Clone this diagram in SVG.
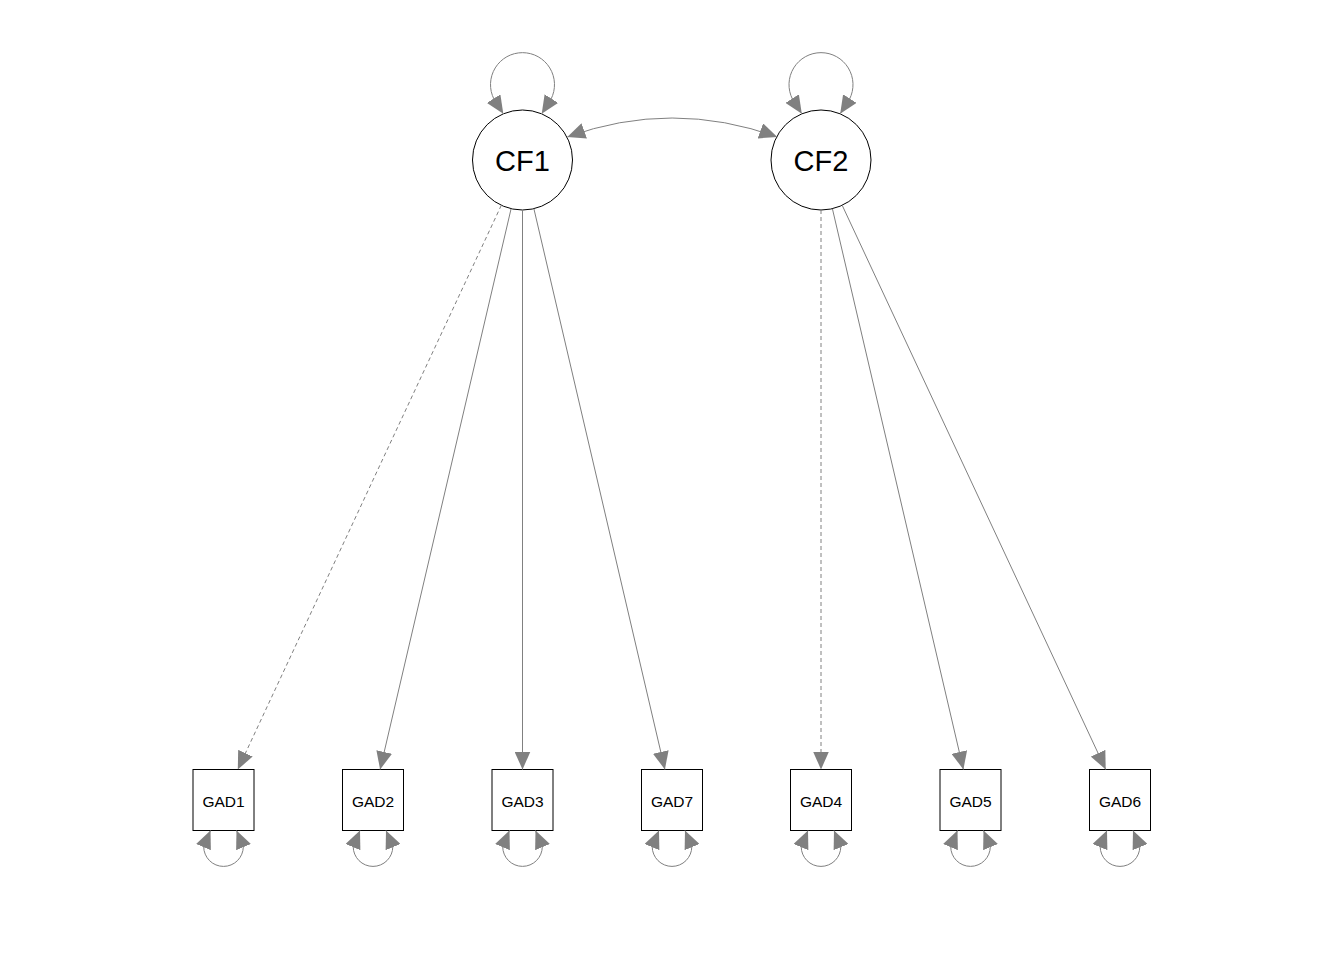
<svg xmlns="http://www.w3.org/2000/svg" width="1344" height="960" viewBox="0 0 1344 960">
<style>
.bg{fill:#ffffff}
.lat{fill:#ffffff;stroke:#000000;stroke-width:1}
.man{fill:#ffffff;stroke:#000000;stroke-width:1}
.latt{font-family:"Liberation Sans",Arial,sans-serif;font-size:29px;fill:#000000;text-anchor:middle}
.mant{font-family:"Liberation Sans",Arial,sans-serif;font-size:15.5px;fill:#000000;text-anchor:middle}
.e{fill:none;stroke:#808080;stroke-width:1;marker-end:url(#ah)}
.d{stroke-dasharray:4 3}
.b{fill:none;stroke:#808080;stroke-width:1;marker-start:url(#ah);marker-end:url(#ah)}
</style>
<defs>
<marker id="ah" viewBox="0 0 18 16" refX="18" refY="8" markerWidth="18" markerHeight="16" markerUnits="userSpaceOnUse" orient="auto-start-reverse">
<path d="M0,0 L18,8 L0,16 Z" fill="#808080"/>
</marker>
</defs>
<rect class="bg" x="0" y="0" width="1344" height="960"/>

<g id="CF1">
<circle class="lat" cx="522.5" cy="160" r="50"/>
<text class="latt" x="522.5" y="171">CF1</text>
</g>
<g id="CF2">
<circle class="lat" cx="821" cy="160" r="50"/>
<text class="latt" x="821" y="171">CF2</text>
</g>

<g id="GAD1"><rect class="man" x="193" y="769.5" width="61" height="61"/><text class="mant" x="223.5" y="806.5">GAD1</text></g>
<g id="GAD2"><rect class="man" x="342.5" y="769.5" width="61" height="61"/><text class="mant" x="373" y="806.5">GAD2</text></g>
<g id="GAD3"><rect class="man" x="492" y="769.5" width="61" height="61"/><text class="mant" x="522.5" y="806.5">GAD3</text></g>
<g id="GAD7"><rect class="man" x="641.5" y="769.5" width="61" height="61"/><text class="mant" x="672" y="806.5">GAD7</text></g>
<g id="GAD4"><rect class="man" x="790.5" y="769.5" width="61" height="61"/><text class="mant" x="821" y="806.5">GAD4</text></g>
<g id="GAD5"><rect class="man" x="940" y="769.5" width="61" height="61"/><text class="mant" x="970.5" y="806.5">GAD5</text></g>
<g id="GAD6"><rect class="man" x="1089.5" y="769.5" width="61" height="61"/><text class="mant" x="1120" y="806.5">GAD6</text></g>

<g id="connectors">
<path class="e d" d="M501.3,205.3 L237.8,769.5"/>
<path class="e" d="M511.1,208.7 L380.1,769.5"/>
<path class="e" d="M522.5,210 L522.5,769.5"/>
<path class="e" d="M533.9,208.7 L664.9,769.5"/>
<path class="e d" d="M821,210 L821,769.5"/>
<path class="e" d="M832.4,208.7 L963.4,769.5"/>
<path class="e" d="M842.2,205.3 L1105.7,769.5"/>

<path class="b" d="M567.3,137 Q672,99 777.3,137"/>

<path class="b" d="M503.3,113.8 L494,99.2 A32,32 0 1 1 551,99.2 L541.7,113.8"/>
<path class="b" d="M801.8,113.8 L792.5,99.2 A32,32 0 1 1 849.5,99.2 L840.2,113.8"/>

<path class="b" d="M210.5,830.5 L203.7,846.6 A19.8,19.8 0 0 0 243.3,846.6 L236.5,830.5"/>
<path class="b" d="M360,830.5 L353.2,846.6 A19.8,19.8 0 0 0 392.8,846.6 L386,830.5"/>
<path class="b" d="M509.5,830.5 L502.7,846.6 A19.8,19.8 0 0 0 542.3,846.6 L535.5,830.5"/>
<path class="b" d="M659,830.5 L652.2,846.6 A19.8,19.8 0 0 0 691.8,846.6 L685,830.5"/>
<path class="b" d="M808,830.5 L801.2,846.6 A19.8,19.8 0 0 0 840.8,846.6 L834,830.5"/>
<path class="b" d="M957.5,830.5 L950.7,846.6 A19.8,19.8 0 0 0 990.3,846.6 L983.5,830.5"/>
<path class="b" d="M1107,830.5 L1100.2,846.6 A19.8,19.8 0 0 0 1139.8,846.6 L1133,830.5"/>
</g>
</svg>
